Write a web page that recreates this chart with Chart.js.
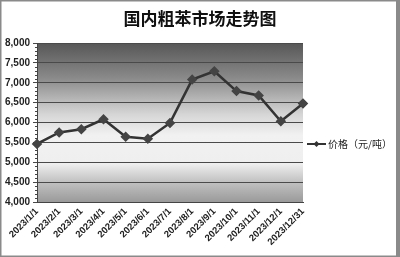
<!DOCTYPE html>
<html>
<head>
<meta charset="utf-8">
<script src="https://cdn.jsdelivr.net/npm/chart.js@4/dist/chart.umd.min.js"></script>
<style>
  html, body { margin: 0; padding: 0; background: #fff; }
  #wrap { width: 400px; height: 257px; position: relative; }
</style>
</head>
<body>
<div id="wrap"><canvas id="c"></canvas></div>
<script>
// ── data ────────────────────────────────────────────────────────────────────
const dates  = ['2023/1/1', '2023/2/1', '2023/3/1', '2023/4/1', '2023/5/1', '2023/6/1', '2023/7/1',
                '2023/8/1', '2023/9/1', '2023/10/1', '2023/11/1', '2023/12/1', '2023/12/31'];
const prices = [5460, 5750, 5830, 6080, 5640, 5590, 5990, 7080, 7290, 6790, 6680, 6030, 6480];
const yTicks = [4000, 4500, 5000, 5500, 6000, 6500, 7000, 7500, 8000];
const seriesName = '价格（元/吨）';
const titleText  = '国内粗苯市场走势图';

// gradient behind plot area + title + minor ticks + frame + legend
const decor = {
  id: 'decor',
  beforeDraw(chart) {
    const { ctx, chartArea: a } = chart;
    const g = ctx.createLinearGradient(0, a.top, 0, a.bottom);
    g.addColorStop(0.00, '#575757');
    g.addColorStop(0.22, '#8a8a8a');
    g.addColorStop(0.45, '#d6d6d6');
    g.addColorStop(0.58, '#f1f1f1');
    g.addColorStop(0.76, '#efefef');
    g.addColorStop(0.86, '#c6c6c6');
    g.addColorStop(1.00, '#9a9a9a');
    ctx.save();
    ctx.fillStyle = g;
    ctx.fillRect(a.left, a.top, a.right - a.left, a.bottom - a.top);
    ctx.restore();
  },
  afterDraw(chart) {
    const { ctx, chartArea: a, scales: { y } } = chart;
    ctx.save();
    // title, centred on the whole picture
    ctx.fillStyle = '#111';
    ctx.font = 'bold 17px "Noto Sans CJK SC"';
    ctx.textAlign = 'center';
    ctx.textBaseline = 'middle';
    ctx.fillText(titleText, 200, 19);
    ctx.textAlign = 'left';
    // minor ticks every 100
    ctx.strokeStyle = '#444';
    ctx.lineWidth = 1;
    for (let v = 4000; v <= 8000; v += 100) {
      if (v % 500 === 0) continue;
      const py = Math.round(y.getPixelForValue(v)) + 0.5;
      ctx.beginPath();
      ctx.moveTo(a.left - 2, py);
      ctx.lineTo(a.left, py);
      ctx.stroke();
    }
    // outer frame
    ctx.strokeStyle = '#8a8a8a';
    ctx.lineWidth = 1.5;
    ctx.strokeRect(0.75, 0.75, 398, 255.5);
    ctx.fillStyle = '#8a8a8a';
    ctx.fillRect(396, 0, 4, 257);
    // legend
    const ly = 144;
    ctx.strokeStyle = '#333';
    ctx.lineWidth = 2;
    ctx.beginPath();
    ctx.moveTo(307, ly);
    ctx.lineTo(326, ly);
    ctx.stroke();
    ctx.fillStyle = '#333';
    ctx.beginPath();
    ctx.moveTo(316.5, ly - 3);
    ctx.lineTo(319.5, ly);
    ctx.lineTo(316.5, ly + 3);
    ctx.lineTo(313.5, ly);
    ctx.closePath();
    ctx.fill();
    ctx.fillStyle = '#222';
    ctx.font = '10px "Noto Sans CJK SC"';
    ctx.textBaseline = 'middle';
    ctx.fillText(seriesName, 328, ly);
    ctx.restore();
  }
};

new Chart(document.getElementById('c'), {
  type: 'line',
  data: {
    labels: dates,
    datasets: [{
      label: seriesName,
      data: prices,
      borderColor: '#333',
      borderWidth: 2.5,
      pointStyle: 'rectRot',
      pointRadius: 3.5,
      pointBackgroundColor: '#444',
      pointBorderColor: '#444',
      tension: 0
    }]
  },
  options: {
    responsive: true,
    maintainAspectRatio: false,
    animation: false,
    layout: { padding: { top: 43, right: 97, left: 2, bottom: 0 } },
    plugins: {
      legend: { display: false },
      tooltip: { enabled: false },
      title: { display: false }
    },
    scales: {
      x: {
        offset: false,
        grid: { display: false, drawTicks: true, tickLength: 4, color: '#444' },
        border: { color: '#444' },
        ticks: {
          color: '#222',
          font: { family: 'Liberation Sans', size: 9.5, weight: 'bold' },
          maxRotation: 45,
          minRotation: 45,
          autoSkip: false,
          padding: 0
        },
        afterFit(s) { s.height = 55; }
      },
      y: {
        min: 4000,
        max: 8000,
        afterBuildTicks(s) { s.ticks = yTicks.map(v => ({ value: v })); },
        grid: { color: '#4a4a4a', lineWidth: 1, tickLength: 4, drawOnChartArea: true },
        border: { color: '#444' },
        ticks: {
          color: '#222',
          font: { family: 'Liberation Sans', size: 10, weight: 'bold' },
          padding: 3,
          callback: v => v.toLocaleString('en-US')
        },
        afterFit(s) { s.width = 35; }
      }
    }
  },
  plugins: [decor]
});
</script>
</body>
</html>
